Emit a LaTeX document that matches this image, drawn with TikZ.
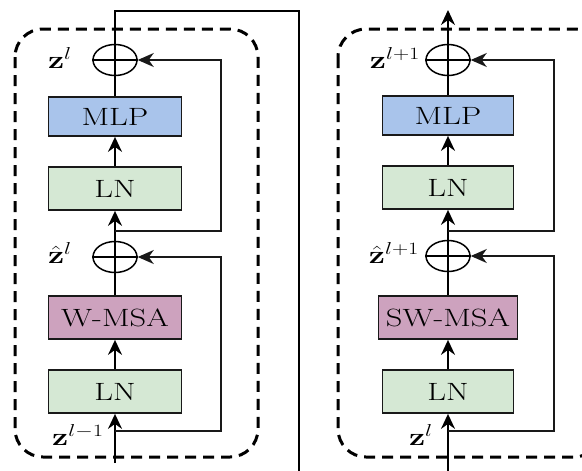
\documentclass[tikz,border=0pt]{standalone}
\usepackage{graphicx}
\usetikzlibrary{arrows.meta,shapes.geometric}
\newcommand\hs[1]{\scalebox{1.3}[1]{#1}}
\definecolor{mlpblue}{HTML}{A9C4EB}
\definecolor{lngreen}{HTML}{D5E8D4}
\definecolor{msapink}{HTML}{CDA2BE}
\begin{document}
\begin{tikzpicture}[x=1pt,y=-1pt,
  blk/.style={draw=black!90, line width=1.8pt, font=\fontsize{25}{29}\selectfont, inner sep=0pt, minimum width=133pt, minimum height=43pt},
  addop/.style={ellipse, draw=black, line width=1.5pt, minimum width=44pt, minimum height=31pt, inner sep=0pt},
  wire/.style={draw=black, line width=2pt},
  conn/.style={wire, -{Stealth[length=15pt,width=14pt,inset=5pt]}},
  skipline/.style={draw=black!90, line width=1.4pt, -{Stealth[length=16pt,width=14pt,inset=5pt]}},
  lbl/.style={font=\fontsize{24}{28}\selectfont, inner sep=0pt},
  dashframe/.style={draw=black, line width=3pt, dash pattern=on 11pt off 7pt, rounded corners=28pt}]
\clip (0,0) rectangle (582,471);
\fill[white] (0,0) rectangle (582,471);

% ---------------- left block ----------------
\draw[dashframe] (15,29) rectangle (258,457);
\node[blk, fill=mlpblue, minimum height=39pt] (mlpA) at (115,116.5) {\hs{MLP}};
\node[blk, fill=lngreen] (lnA2) at (115,188.5) {\hs{LN}};
\node[blk, fill=msapink] (msaA) at (115,317.5) {\hs{W-MSA}};
\node[blk, fill=lngreen] (lnA1) at (115,391.5) {\hs{LN}};
\node[addop] (addA1) at (115,257) {};
\node[addop] (addA2) at (115,60) {};
\draw[wire, line width=1.5pt] (addA1.west) -- (addA1.east) (addA1.north) -- (addA1.south);
\draw[wire, line width=1.5pt] (addA2.west) -- (addA2.east) (addA2.north) -- (addA2.south);

\coordinate (inA) at (115,463);
\coordinate (brA1) at (115,431);
\coordinate (rA1) at (221,431);
\coordinate (brA2) at (115,231);
\coordinate (rA2) at (221,231);
\coordinate (topA) at (115,11);
\coordinate (cornA) at (299,11);
\coordinate (outA) at (299,471);

\draw[conn] (inA) -- (lnA1.south);
\draw[conn] (lnA1.north) -- (msaA.south);
\draw[wire] (msaA.north) -- (addA1.south);
\draw[conn] (addA1.north) -- (lnA2.south);
\draw[conn] (lnA2.north) -- (mlpA.south);
\draw[wire] (mlpA.north) -- (addA2.south);
\draw[wire] (addA2.north) -- (topA) -- (cornA) -- (outA);
\draw[skipline] (brA1) -- (rA1) |- (addA1.east);
\draw[skipline] (brA2) -- (rA2) |- (addA2.east);

\node[lbl] (zA2) at (60,58) {\hs{$\mathbf{z}^{l}$}};
\node[lbl] (zA1) at (60,253) {\hs{$\hat{\mathbf{z}}^{l}$}};
\node[lbl] (zA0) at (78,435) {\hs{$\mathbf{z}^{l-1}$}};

% ---------------- right block ----------------
\draw[dashframe] (338,29) rectangle (602,457);
\node[blk, fill=mlpblue, minimum height=39pt, minimum width=131pt] (mlpB) at (448,115.5) {\hs{MLP}};
\node[blk, fill=lngreen, minimum width=131pt] (lnB2) at (448,187.5) {\hs{LN}};
\node[blk, fill=msapink, minimum width=139pt] (msaB) at (448,317.5) {\hs{SW-MSA}};
\node[blk, fill=lngreen, minimum width=131pt] (lnB1) at (448,391.5) {\hs{LN}};
\node[addop] (addB1) at (448,256) {};
\node[addop] (addB2) at (448,60) {};
\draw[wire, line width=1.5pt] (addB1.west) -- (addB1.east) (addB1.north) -- (addB1.south);
\draw[wire, line width=1.5pt] (addB2.west) -- (addB2.east) (addB2.north) -- (addB2.south);

\coordinate (inB) at (448,471);
\coordinate (brB1) at (448,431);
\coordinate (rB1) at (554,431);
\coordinate (brB2) at (448,231);
\coordinate (rB2) at (554,231);
\coordinate (outB) at (448,10);

\draw[conn] (inB) -- (lnB1.south);
\draw[conn] (lnB1.north) -- (msaB.south);
\draw[wire] (msaB.north) -- (addB1.south);
\draw[conn] (addB1.north) -- (lnB2.south);
\draw[conn] (lnB2.north) -- (mlpB.south);
\draw[wire] (mlpB.north) -- (addB2.south);
\draw[conn] (addB2.north) -- (outB);
\draw[skipline] (brB1) -- (rB1) |- (addB1.east);
\draw[skipline] (brB2) -- (rB2) |- (addB2.east);

\node[lbl] (zB2) at (395,58) {\hs{$\mathbf{z}^{l+1}$}};
\node[lbl] (zB1) at (394,253) {\hs{$\hat{\mathbf{z}}^{l+1}$}};
\node[lbl] (zB0) at (421,435) {\hs{$\mathbf{z}^{l}$}};
\end{tikzpicture}
\end{document}
